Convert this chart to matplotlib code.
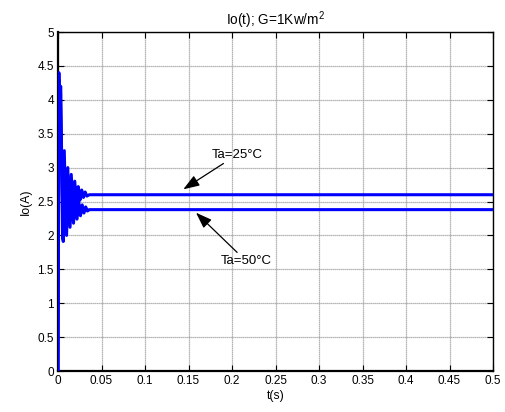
import matplotlib
matplotlib.use("Agg")
import matplotlib.pyplot as plt

plt.rcParams['font.family'] = ['Liberation Sans', 'DejaVu Sans']
plt.rcParams['mathtext.fontset'] = 'custom'
plt.rcParams['mathtext.rm'] = 'Liberation Sans'
plt.rcParams['mathtext.it'] = 'Liberation Sans'

# Output current transients (time in s, current in A), extrema of the ringing
t_25 = [0, 0.0010, 0.0020, 0.0030, 0.0052, 0.0072, 0.0092, 0.0112, 0.0132, 0.0152,
        0.0172, 0.0192, 0.0212, 0.0232, 0.0252, 0.0272, 0.0292, 0.0312, 0.0332, 0.036, 0.5]
i_25 = [0, 4.40, 3.20, 4.20, 1.95, 3.25, 2.05, 3.00, 2.20, 2.90,
        2.35, 2.80, 2.45, 2.72, 2.52, 2.67, 2.56, 2.64, 2.58, 2.60, 2.60]

t_50 = [0, 0.0009, 0.0019, 0.0029, 0.0060, 0.0078, 0.0098, 0.0118, 0.0138, 0.0158,
        0.0178, 0.0198, 0.0218, 0.0238, 0.0258, 0.0278, 0.0298, 0.0318, 0.0338, 0.036, 0.5]
i_50 = [0, 4.30, 3.00, 4.10, 1.91, 2.96, 2.00, 2.82, 2.12, 2.66,
        2.18, 2.57, 2.24, 2.50, 2.29, 2.45, 2.33, 2.42, 2.36, 2.38, 2.38]

x_ticks = [0, 0.05, 0.1, 0.15, 0.2, 0.25, 0.3, 0.35, 0.4, 0.45, 0.5]
x_labels = ['0', '0.05', '0.1', '0.15', '0.2', '0.25', '0.3', '0.35', '0.4', '0.45', '0.5']
y_ticks = [0, 0.5, 1, 1.5, 2, 2.5, 3, 3.5, 4, 4.5, 5]
y_labels = ['0', '0.5', '1', '1.5', '2', '2.5', '3', '3.5', '4', '4.5', '5']

fig = plt.figure(figsize=(5.05, 4.12), dpi=100)
ax = fig.add_axes([0.1149, 0.0995, 0.8614, 0.8228])

ax.plot(t_25, i_25, color='#0000ff', lw=2.2, zorder=3)
ax.plot(t_50, i_50, color='#0000ff', lw=2.2, zorder=3)

ax.set_xlim(0, 0.5)
ax.set_ylim(0, 5)
ax.set_xticks(x_ticks)
ax.set_xticklabels(x_labels)
ax.set_yticks(y_ticks)
ax.set_yticklabels(y_labels)
ax.tick_params(direction='in', top=True, right=True, length=4, width=0.8,
               labelsize=8.5, pad=3)
ax.grid(True, color='#a0a0a0', linestyle=(0, (1, 0.6)), linewidth=0.9)
for side in ['top', 'right']:
    ax.spines[side].set_linewidth(1.0)
for side in ['bottom', 'left']:
    ax.spines[side].set_linewidth(1.6)

ax.set_title('Io(t); G=1Kw/m$^{2}$', fontsize=9.8, pad=5)
ax.set_xlabel('t(s)', fontsize=8.8, labelpad=2)
ax.set_ylabel('Io(A)', fontsize=8.8, labelpad=4)

arrow = dict(arrowstyle='-|>,head_length=0.7,head_width=0.25', color='k', lw=0.9,
             mutation_scale=14, shrinkA=0, shrinkB=0)
ax.annotate('Ta=25°C', xy=(0.144, 2.68), xytext=(0.1765, 3.19),
            fontsize=9.5, va='center', ha='left', arrowprops=arrow)
ax.annotate('Ta=50°C', xy=(0.1586, 2.335), xytext=(0.187, 1.62),
            fontsize=9.5, va='center', ha='left', arrowprops=arrow)

fig.savefig('out.png', dpi=100)
